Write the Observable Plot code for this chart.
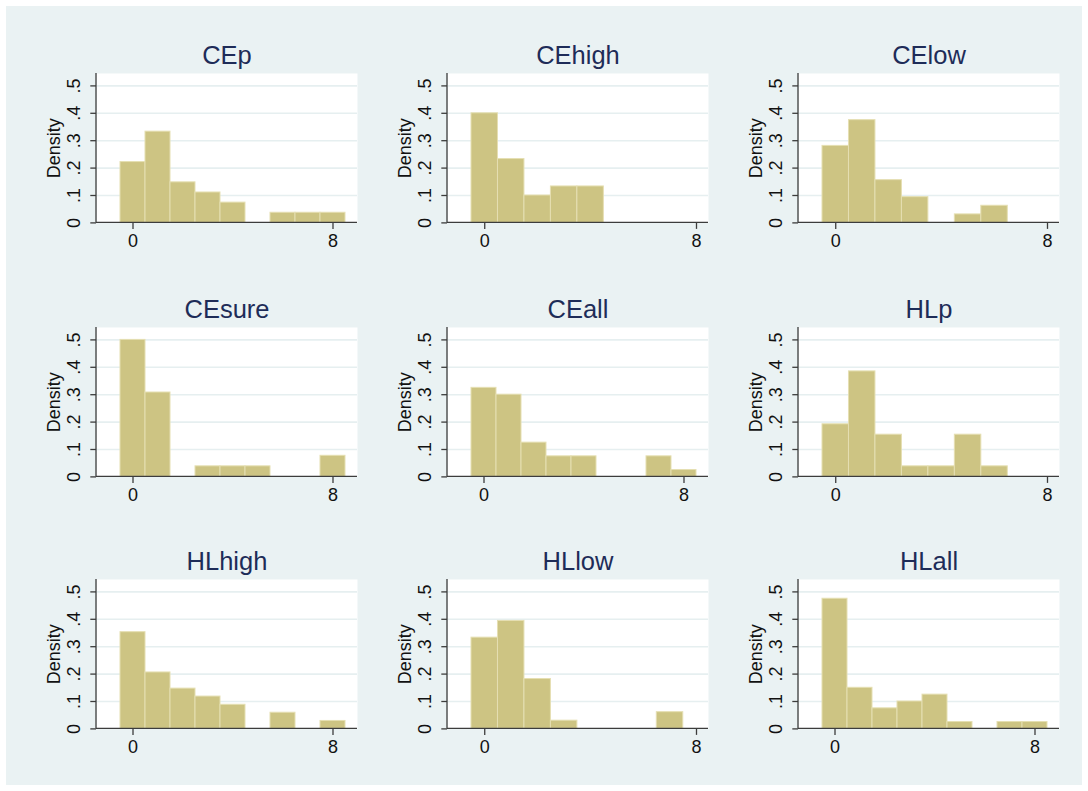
<!DOCTYPE html>
<html>
<head>
<meta charset="utf-8">
<script src="https://cdn.jsdelivr.net/npm/d3@7"></script>
<script src="https://cdn.jsdelivr.net/npm/@observablehq/plot@0.6"></script>
<style>
  body { margin: 0; background: #ffffff; }
  #wrap { position: relative; width: 1088px; height: 791px; background: #ffffff; overflow: hidden; }
  #bg { position: absolute; left: 6px; top: 6px; width: 1076px; height: 779px; background: #eaf2f3; }
  #wrap svg { position: absolute; overflow: visible; }
</style>
</head>
<body>
<div id="wrap"><div id="bg"></div></div>
<script>
// ---- Data: density per integer bin (bin i covers i-0.5 .. i+0.5) ----
const panelNames = ["CEp", "CEhigh", "CElow", "CEsure", "CEall", "HLp", "HLhigh", "HLlow", "HLall"];
const CEp    = [0.222, 0.333, 0.148, 0.111, 0.074, 0, 0.037, 0.037, 0.037];
const CEhigh = [0.400, 0.233, 0.100, 0.133, 0.133];
const CElow  = [0.281, 0.375, 0.156, 0.094, 0, 0.031, 0.0625];
const CEsure = [0.500, 0.308, 0, 0.0385, 0.0385, 0.0385, 0, 0, 0.077];
const CEall  = [0.325, 0.300, 0.125, 0.075, 0.075, 0, 0, 0.075, 0.025];
const HLp    = [0.192, 0.385, 0.154, 0.0385, 0.0385, 0.154, 0.0385];
const HLhigh = [0.353, 0.206, 0.147, 0.118, 0.088, 0, 0.059, 0, 0.029];
const HLlow  = [0.333, 0.394, 0.182, 0.030, 0, 0, 0, 0.061];
const HLall  = [0.475, 0.150, 0.075, 0.100, 0.125, 0.025, 0, 0.025, 0.025];
const panelValues = [CEp, CEhigh, CElow, CEsure, CEall, HLp, HLhigh, HLlow, HLall];
const xTicks = [0, 8];
const yTicks = [0, 0.1, 0.2, 0.3, 0.4, 0.5];
const yTickLabels = ["0", ".1", ".2", ".3", ".4", ".5"];
const yLabel = "Density";

// ---- Layout / style ----
const colLeft = [95.7, 447.3, 798.3];   // frame left edges
const rowTop = [73.3, 326.7, 579];      // frame top edges
const frameW = 261, frameH = 149.4;
const mL = 90, mR = 6, mT = 60, mB = 40;
const FONT = "'Liberation Sans', Arial, Helvetica, sans-serif";
const barFill = "#cdc483";
const barStroke = "#e5dfb2";
const axisColor = "#3c3c3c";
const gridColor = "#e6eff0";
const titleColor = "#1e2c58";

const wrap = document.getElementById("wrap");

panelValues.forEach((vals, k) => {
  const bins = vals.map((d, i) => ({x1: i - 0.5, x2: i + 0.5, d})).filter(b => b.d > 0);
  const hi = Math.max(8, vals.length - 0.5);
  const col = k % 3, row = Math.floor(k / 3);

  const axisLines = (index, scales, values, dims) => {
    const g = d3.create("svg:g").attr("stroke", axisColor).attr("stroke-width", 1.3);
    const l = dims.marginLeft, r = dims.width - dims.marginRight;
    const t = dims.marginTop, b = dims.height - dims.marginBottom;
    g.append("line").attr("x1", l).attr("x2", r).attr("y1", b).attr("y2", b);
    g.append("line").attr("x1", l).attr("x2", l).attr("y1", t).attr("y2", b);
    return g.node();
  };

  const svg = Plot.plot({
    width: mL + frameW + mR,
    height: mT + frameH + mB,
    marginLeft: mL, marginRight: mR, marginTop: mT, marginBottom: mB,
    style: {background: "transparent", fontFamily: FONT, color: "#111"},
    x: {domain: [-0.5, hi], insetLeft: 24, insetRight: 12, label: null},
    y: {domain: [0, 0.5], insetTop: 12.4, label: null},
    marks: [
      Plot.frame({fill: "white", stroke: null}),
      Plot.gridY(yTicks.filter(v => v > 0), {stroke: gridColor, strokeOpacity: 1, strokeWidth: 1.6}),
      Plot.rectY(bins, {x1: "x1", x2: "x2", y: "d", fill: barFill, stroke: barStroke, strokeWidth: 1}),
      Plot.axisX({ticks: xTicks, tickFormat: d => String(d), tickSize: 6.5, tickPadding: 5,
                  fontSize: 18, stroke: axisColor, strokeWidth: 1.3, label: null}),
      Plot.axisY({ticks: yTicks, tickFormat: () => "", tickSize: 5.7, stroke: axisColor, strokeWidth: 1.3, label: null}),
      Plot.text(yTicks, {y: d => d, text: (d, i) => yTickLabels[i], frameAnchor: "left", dx: -22.5,
                         rotate: -90, fontSize: 18, textAnchor: "middle", lineAnchor: "middle", fill: "#111"}),
      Plot.text([yLabel], {text: d => d, frameAnchor: "left", dx: -42, rotate: -90, fontSize: 18,
                           textAnchor: "middle", lineAnchor: "middle", fill: "#111"}),
      Plot.text([panelNames[k]], {text: d => d, frameAnchor: "top", dy: -18, fontSize: 25.5,
                                  textAnchor: "middle", lineAnchor: "middle", fill: titleColor}),
      axisLines
    ]
  });
  svg.style.left = (colLeft[col] - mL) + "px";
  svg.style.top = (rowTop[row] - mT) + "px";
  svg.style.maxWidth = "none";
  wrap.appendChild(svg);
});
</script>
</body>
</html>
